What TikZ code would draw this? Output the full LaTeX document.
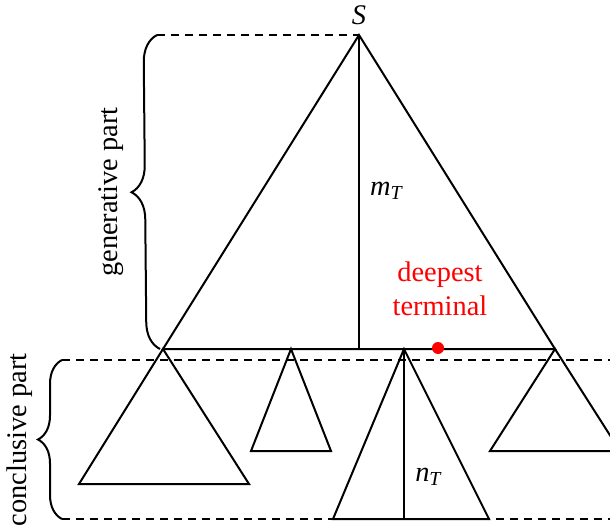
\documentclass[tikz,border=0pt]{standalone}
\usepackage{fontspec}
\setmainfont{Liberation Serif}
\usetikzlibrary{decorations.pathreplacing}

\begin{document}
\begin{tikzpicture}[x=0.5pt, y=-0.5pt, line width=1pt,
    lbl/.style={inner sep=0pt, font=\fontsize{14.2}{17}\selectfont},
    guide/.style={dash pattern=on 4pt off 3pt},
    brc/.style={decorate, decoration={brace, amplitude=#1}}]
    \useasboundingbox (0,0) rectangle (610,529);
    \clip (0,0) rectangle (610,529);

    % the generative tree
    \coordinate (S) at (359,35);
    \coordinate (L) at (163,349);
    \coordinate (R) at (555,349);
    \coordinate (M) at (359,349);
    \draw (S) -- (L) -- (R) -- cycle;
    \draw (S) -- (M);
    \node[lbl] (Slbl) at (359,15) {\textit{S}};
    \node[lbl] (mT) at (387,191) {\textit{m}\textsubscript{\textit{T}}};

    % subtrees hanging from the frontier
    \foreach \a/\l/\r/\b [count=\i] in {163/79/249/484, 291/251/331/451, 404/333/489/519, 555/490/620/451} {
        \coordinate (t\i) at (\a,349);
        \coordinate (t\i l) at (\l,\b);
        \coordinate (t\i r) at (\r,\b);
        \draw (t\i) -- (t\i l) -- (t\i r) -- cycle;
    }
    \coordinate (t3b) at (404,519);
    \draw (t3) -- (t3b);
    \node[lbl] (nT) at (429,477) {\textit{n}\textsubscript{\textit{T}}};

    % deepest terminal
    \fill[red] (438,348) circle (3pt) coordinate (dot);
    \node[lbl, red, align=center] (deep) at (440,289) {deepest\\terminal};

    % guides and braces
    \coordinate (gtop) at (157,35);
    \coordinate (gbot) at (160,349);
    \coordinate (ctop) at (62,360);
    \coordinate (cbot) at (62,519);
    \coordinate (ctopR) at (610,360);
    \coordinate (cbotR) at (610,519);
    \draw[guide] (gtop) -- (S);
    \draw[guide] (ctop) -- (ctopR);
    \draw[guide] (cbot) -- (cbotR);
    \draw[brc=13.5pt] (gbot) -- (gtop);
    \draw[brc=12pt] (cbot) -- (ctop);
    \node[lbl, rotate=90] (gen) at (111,192) {generative part};
    \node[lbl, rotate=90] (con) at (20,440) {conclusive part};
\end{tikzpicture}
\end{document}
